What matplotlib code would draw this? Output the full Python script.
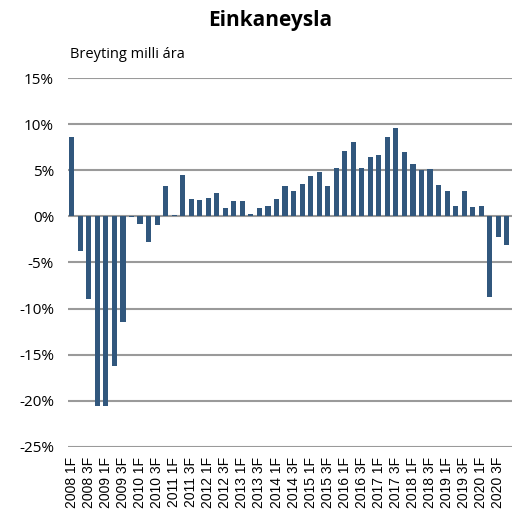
import matplotlib
matplotlib.use("Agg")
import matplotlib.pyplot as plt
import numpy as np

# quarterly change from same quarter previous year (%)
years = list(range(2008, 2021))
quarters = ["1F", "2F", "3F", "4F"]
periods = [f"{y} {q}" for y in years for q in quarters]

change = [
    8.6, -3.8, -9.0, -20.6,    # 2008
    -20.6, -16.2, -11.4, -0.05,  # 2009
    -0.8, -2.8, -0.9, 3.3,     # 2010
    0.2, 4.5, 1.85, 1.8,       # 2011
    2.0, 2.5, 0.95, 1.7,       # 2012
    1.7, 0.3, 0.95, 1.15,      # 2013
    1.9, 3.3, 2.7, 3.55,       # 2014
    4.4, 4.8, 3.3, 5.25,       # 2015
    7.1, 8.1, 5.2, 6.4,        # 2016
    6.6, 8.6, 9.55, 7.0,       # 2017
    5.7, 5.05, 5.1, 3.4,       # 2018
    2.7, 1.15, 2.7, 1.05,      # 2019
    1.15, -8.7, -2.25, -3.1,   # 2020
]

yticks = [15, 10, 5, 0, -5, -10, -15, -20, -25]

fig = plt.figure(figsize=(5.15, 5.2), dpi=100)
ax = fig.add_axes([0.132, 0.1404, 0.862, 0.7096])

x = np.arange(len(periods))
ax.bar(x, change, width=0.6, color="#31577d", zorder=3)

ax.set_ylim(-25, 15)
ax.set_yticks(yticks)
ax.set_yticklabels([f"{t}%" for t in yticks], fontsize=11, family="Open Sans")
ax.yaxis.grid(True, color="#9a9a9a", linewidth=1.5, zorder=0)
ax.tick_params(axis="y", length=0, pad=10)

ax.set_xlim(-0.45, len(periods) - 0.4)
ax.set_xticks(x[::2])
ax.set_xticklabels(periods[::2], rotation=90, fontsize=10, family="Liberation Sans")
ax.tick_params(axis="x", length=0, pad=7)

for s in ax.spines.values():
    s.set_visible(False)

fig.text(0.525, 0.96, "Einkaneysla", ha="center", va="center",
         fontsize=15, fontweight="bold", family="Open Sans")
fig.text(0.136, 0.895, "Breyting milli ára", ha="left", va="center",
         fontsize=10.5, family="Open Sans")

fig.savefig("out.png", dpi=100)
